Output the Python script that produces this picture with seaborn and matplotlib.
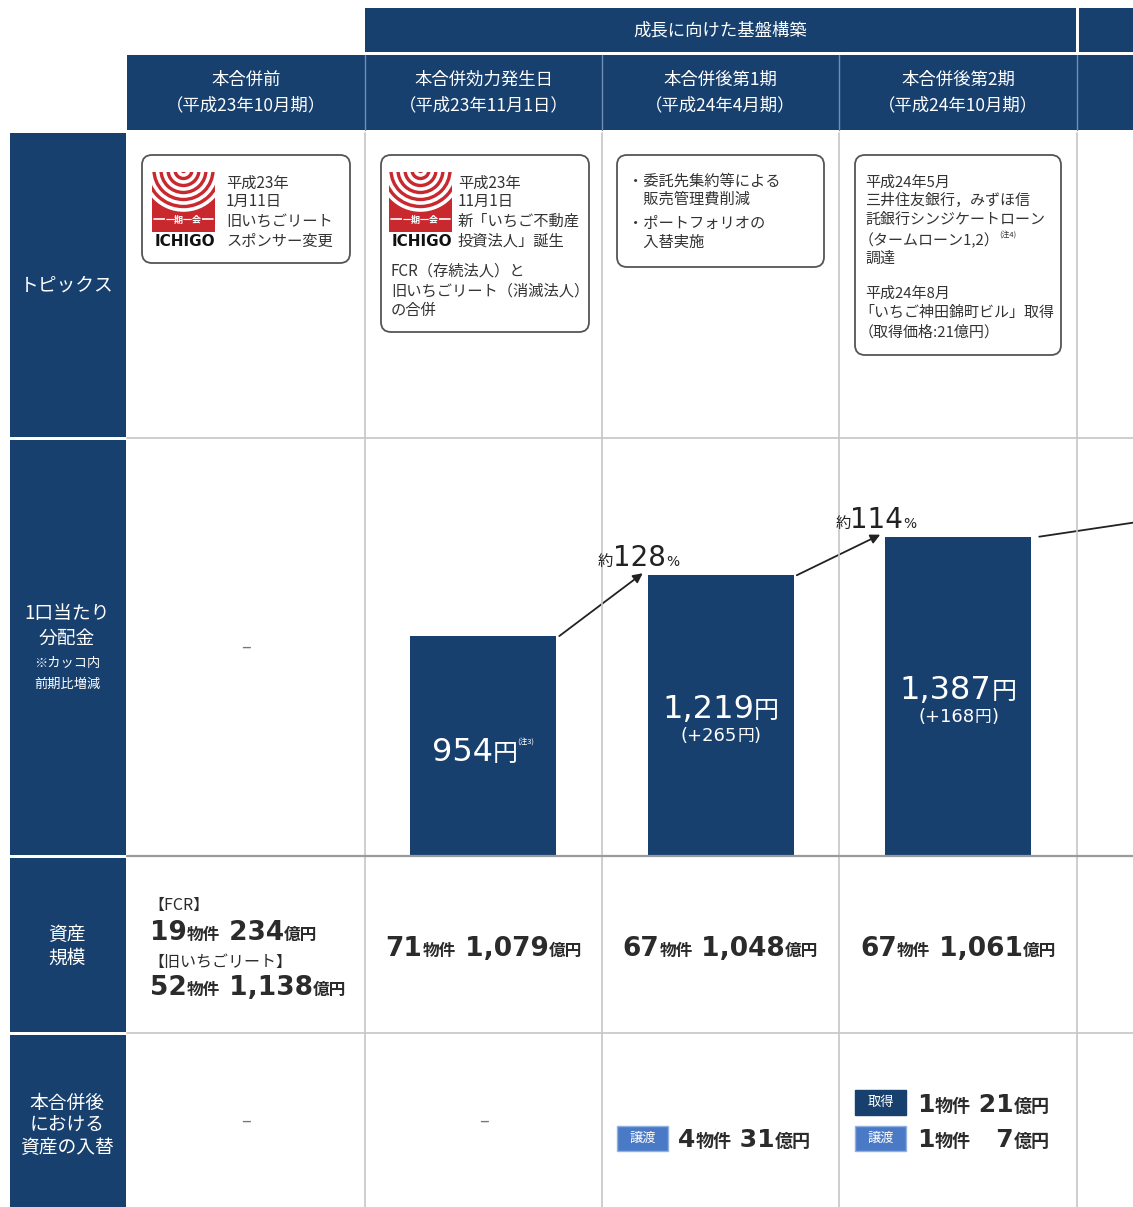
import numpy as np
import pandas as pd
import matplotlib
matplotlib.use("Agg")
import matplotlib.pyplot as plt
import seaborn as sns
from matplotlib.patches import Rectangle, FancyBboxPatch, Arc

# ---------------- data ----------------
periods = ["本合併前", "本合併効力発生日", "本合併後第1期", "本合併後第2期"]
period_sub = ["（平成23年10月期）", "（平成23年11月1日）", "（平成24年4月期）", "（平成24年10月期）"]
group_title = "成長に向けた基盤構築"
row_titles = ["トピックス", "1口当たり分配金", "資産規模", "本合併後における資産の入替"]
distribution = [np.nan, 954, 1219, 1387]          # 円 / 口
topic_box1 = ["平成23年", "1月11日", "旧いちごリート", "スポンサー変更"]
topic_box2_top = ["平成23年", "11月1日", "新「いちご不動産", "投資法人」誕生"]
topic_box2_bottom = ["FCR（存続法人）と", "旧いちごリート（消滅法人）", "の合併"]
topic_box3 = ["・委託先集約等による", "　販売管理費削減", "・ポートフォリオの", "　入替実施"]
topic_box4 = ["平成24年5月", "三井住友銀行，みずほ信", "託銀行シンジケートローン", "（タームローン1,2）", "調達",
              "平成24年8月", "「いちご神田錦町ビル」取得", "（取得価格:21億円）"]
pre_merger_names = ["【FCR】", "【旧いちごリート】"]
pre_merger_props = [19, 52]
pre_merger_oku = ["234", "1,138"]
asset_props = [71, 67, 67]
asset_oku = ["1,079", "1,048", "1,061"]
swap_col3 = [("譲渡", 4, "31")]
swap_col4 = [("取得", 1, "21"), ("譲渡", 1, "7")]

# ---------------- style ----------------
sns.set_theme(style="white")
JP = ["Noto Sans CJK JP", "DejaVu Sans"]
NUM = ["DejaVu Sans", "Noto Sans CJK JP"]
plt.rcParams["font.family"] = JP

NAVY = "#17406e"
BLUE = "#4a7ac6"
RED = "#c8282e"
DARK = "#2b2b2b"
GRID = "#c6c6c6"

W, H = 1133, 1207
fig = plt.figure(figsize=(W / 100, H / 100), dpi=100, facecolor="white")
ax0 = fig.add_axes([0, 0, 1, 1])
ax0.set_xlim(0, W)
ax0.set_ylim(H, 0)
ax0.axis("off")
ax0.patch.set_visible(False)
ax0.set_zorder(2)

col_edges = [127, 365, 602, 839, 1077, 1315]
col_centers = [(a + b) / 2 for a, b in zip(col_edges[:-1], col_edges[1:])]

centered = []


def rich(x, y, pieces, color=DARK, center=False):
    """pieces: (text, fontsize, weight, family[, dy_points])"""
    txt, fs, fw, fam = pieces[0][:4]
    t0 = ax0.text(x, y, txt, fontsize=fs, fontweight=fw, family=fam, color=color,
                  ha="left", va="baseline", zorder=6)
    arts = [t0]
    prev = t0
    for p in pieces[1:]:
        txt, fs, fw, fam = p[:4]
        dy = p[4] if len(p) > 4 else 0
        a = ax0.annotate(txt, xy=(1, y), xycoords=(prev, "data"), xytext=(0, dy),
                         textcoords="offset points", fontsize=fs, fontweight=fw, family=fam,
                         color=color, ha="left", va="baseline", zorder=6, annotation_clip=False)
        arts.append(a)
        prev = a
    if center:
        centered.append((arts, x))
    return arts


# ---------------- header ----------------
ax0.add_patch(Rectangle((365, 8), 1076 - 365, 44, color=NAVY, lw=0))
ax0.add_patch(Rectangle((1079, 8), 80, 44, color=NAVY, lw=0))
ax0.text((365 + 1076) / 2, 30, group_title, color="white", fontsize=12.5, ha="center", va="center")
ax0.add_patch(Rectangle((127, 55), W - 127, 75, color=NAVY, lw=0))
for x in col_edges[1:5]:
    ax0.plot([x, x], [55, 130], color="#6f8fb8", lw=1, zorder=3)
for i, (p, s) in enumerate(zip(periods, period_sub)):
    ax0.text(col_centers[i], 80, p, color="white", fontsize=12.5, ha="center", va="center")
    ax0.text(col_centers[i], 105, s, color="white", fontsize=12.5, ha="center", va="center")

# ---------------- left column ----------------
row_spans = [(133, 437), (440, 855), (858, 1032), (1035, 1207)]
for y0, y1 in row_spans:
    ax0.add_patch(Rectangle((10, y0), 116, y1 - y0, color=NAVY, lw=0))
ax0.text(67, 285, row_titles[0], color="white", fontsize=13.5, ha="center", va="center")
ax0.text(67, 613, "1口当たり", color="white", fontsize=13.5, ha="center", va="center")
ax0.text(67, 638, "分配金", color="white", fontsize=13.5, ha="center", va="center")
ax0.text(67, 664, "※カッコ内", color="white", fontsize=9.5, ha="center", va="center")
ax0.text(67, 684, "前期比増減", color="white", fontsize=9.5, ha="center", va="center")
ax0.text(67, 934, "資産", color="white", fontsize=13.5, ha="center", va="center")
ax0.text(67, 958, "規模", color="white", fontsize=13.5, ha="center", va="center")
for yy, t in zip([1103, 1125, 1147], ["本合併後", "における", "資産の入替"]):
    ax0.text(67, yy, t, color="white", fontsize=13.5, ha="center", va="center")

# ---------------- grid ----------------
for x in col_edges[1:5]:
    ax0.plot([x, x], [133, H], color=GRID, lw=1.2, zorder=1)
ax0.plot([127, W], [437.5, 437.5], color=GRID, lw=1.2, zorder=1)
ax0.plot([127, W], [855.5, 855.5], color="#9a9a9a", lw=1.6, zorder=1)
ax0.plot([127, W], [1033, 1033], color=GRID, lw=1.2, zorder=1)


# ---------------- topic boxes ----------------
def box(x0, y0, w, h):
    ax0.add_patch(FancyBboxPatch((x0, y0), w, h, boxstyle="round,pad=0,rounding_size=10",
                                 fc="white", ec="#555555", lw=1.3, zorder=2))


def logo(x, y):
    r = Rectangle((x, y), 63, 60, color=RED, lw=0, zorder=3)
    ax0.add_patch(r)
    cx = x + 31.5
    for rad in [5, 12, 19, 26, 33, 40]:
        a = Arc((cx, y - 2), 2 * rad, 2 * rad, theta1=0, theta2=180, color="white", lw=2.6, zorder=4)
        ax0.add_patch(a)
        a.set_clip_path(r)
    ax0.plot([x + 2, x + 61], [y + 47, y + 47], color="white", lw=1.2, zorder=4)
    ax0.text(cx, y + 48, "一期一会", color="white", fontsize=6.5, fontweight="bold",
             ha="center", va="center", zorder=5,
             bbox=dict(fc=RED, ec="none", pad=0.5))
    ax0.text(cx + 1, y + 70, "ICHIGO", color="#111111", fontsize=11, fontweight="bold",
             family=NUM, ha="center", va="center", zorder=5)


box(142, 155, 208, 108)
logo(152, 172)
for yy, t in zip([183, 201, 221, 241], topic_box1):
    ax0.text(226, yy, t, fontsize=11, color="#333333", ha="left", va="center")

box(381, 155, 208, 177)
logo(389, 172)
for yy, t in zip([183, 201, 221, 241], topic_box2_top):
    ax0.text(458, yy, t, fontsize=11, color="#333333", ha="left", va="center")
for yy, t in zip([271, 291, 310], topic_box2_bottom):
    ax0.text(391, yy, t, fontsize=11, color="#333333", ha="left", va="center")

box(617, 155, 207, 112)
for yy, t in zip([181, 199, 223, 242], topic_box3):
    ax0.text(628, yy, t, fontsize=11, color="#333333", ha="left", va="center")

box(855, 155, 206, 200)
for yy, t in zip([183, 201, 220, 240, 259, 294, 313, 332], topic_box4):
    xx = 859 if t.startswith(("「", "（")) else 865
    if t.startswith("（ターム"):
        rich(xx, yy + 5, [(t, 10.8, "normal", JP), ("(注4)", 5.5, "normal", JP, 6)],
             color="#333333")
    else:
        ax0.text(xx, yy, t, fontsize=10.8, color="#333333", ha="left", va="center")

# ---------------- distribution bars (seaborn) ----------------
bar_w = 0.615
px_per_col = 237.5
px_per_yen = 0.2295
axb = fig.add_axes([127 / W, (H - 855) / H, (W - 127) / W, 415 / H])
axb.set_zorder(1)
axb.patch.set_visible(False)
df = pd.DataFrame({"period": periods, "dist": distribution}).dropna()
sns.barplot(data=df, x="period", y="dist", order=periods, color=NAVY, saturation=1,
            width=bar_w, errorbar=None, linewidth=0, ax=axb)
axb.set_xlim(-0.5, -0.5 + (W - 127) / px_per_col)
axb.set_ylim(0, 415 / px_per_yen)
axb.axis("off")

dx = 1 / px_per_col
dy = 1 / px_per_yen
vals = distribution
for i in range(1, len(vals) - 1):
    axb.annotate("", xy=(i + 1 - bar_w / 2 - 5 * dx, vals[i + 1] + 2 * dy),
                 xytext=(i + bar_w / 2 + 3 * dx, vals[i]),
                 arrowprops=dict(arrowstyle="-|>", color="#222222", lw=1.3,
                                 mutation_scale=14, shrinkA=0, shrinkB=0))
last = len(vals) - 1
axb.plot([last + bar_w / 2 + 8 * dx, axb.get_xlim()[1]], [vals[last], vals[last] + 14 * dy],
         color="#222222", lw=1.3, clip_on=False)

fig.canvas.draw()


def to_px(x, y):
    d = axb.transData.transform((x, y))
    return d[0], H - d[1]


# percentage labels
for i in range(1, len(vals) - 1):
    pct = round(vals[i + 1] / vals[i] * 100)
    lx, ly = to_px(i + 1 - bar_w / 2, vals[i + 1])
    rich(lx - 50, ly - 9, [("約", 11, "normal", JP), (f"{pct}", 20, "normal", NUM),
                           ("%", 10, "normal", NUM)], color="#222222")

# values inside bars
for i in range(1, len(vals)):
    cx, top = to_px(i, vals[i])
    _, base = to_px(i, 0)
    mid = (top + base) / 2
    num = f"{vals[i]:,}"
    if i == 1:
        rich(cx, mid + 15, [(num, 23, "normal", NUM), ("円", 18, "normal", JP),
                            ("(注3)", 5.5, "normal", JP, 12)], color="white", center=True)
    else:
        diff = vals[i] - vals[i - 1]
        rich(cx, mid + 3, [(num, 23, "normal", NUM), ("円", 18, "normal", JP)],
             color="white", center=True)
        rich(cx, mid + 26, [(f"(+{diff}", 13, "normal", NUM), ("円", 12, "normal", JP),
                            (")", 13, "normal", NUM)], color="white", center=True)

# dashes for empty cells
for (cx_, cy_) in [(col_centers[0], 648), (col_centers[0], 1122), (col_centers[1], 1122)]:
    ax0.text(cx_, cy_, "–", fontsize=13, color="#777777", ha="center", va="center")

# ---------------- asset size row ----------------
ax0.text(148, 905, pre_merger_names[0], fontsize=11.5, color=DARK, ha="left", va="center")
ax0.text(148, 962, pre_merger_names[1], fontsize=11.5, color=DARK, ha="left", va="center")
for yb, n, oku in zip([940, 995], pre_merger_props, pre_merger_oku):
    rich(150, yb, [(f"{n}", 19, "bold", NUM), ("物件", 12, "bold", JP),
                   (f" {oku}", 19, "bold", NUM), ("億円", 12, "bold", JP)])
for k, (n, oku) in enumerate(zip(asset_props, asset_oku)):
    rich(col_centers[k + 1], 956, [(f"{n}", 19, "bold", NUM), ("物件", 12, "bold", JP),
                                  (f" {oku}", 19, "bold", NUM), ("億円", 12, "bold", JP)],
         center=True)


# ---------------- replacement row ----------------
def tag(x, y, label):
    fc = NAVY if label == "取得" else BLUE
    ax0.add_patch(Rectangle((x, y), 51, 25, fc=fc, ec="#8fb0e0" if label != "取得" else fc,
                            lw=1, zorder=3))
    ax0.text(x + 25.5, y + 12.5, label, fontsize=9.5, color="white", ha="center", va="center",
             zorder=4)


for label, n, oku in swap_col3:
    tag(617, 1126, label)
    rich(678, 1147, [(f"{n}", 18, "bold", NUM), ("物件", 13, "bold", JP),
                     (f" {oku}", 18, "bold", NUM), ("億円", 13, "bold", JP)])
for (label, n, oku), yt, yb in zip(swap_col4, [1090, 1126], [1112, 1147]):
    tag(855, yt, label)
    num = f" {oku}" if len(oku) == 2 else f"   {oku}"
    rich(917, yb, [(f"{n}", 18, "bold", NUM), ("物件", 13, "bold", JP),
                   (num, 18, "bold", NUM), ("億円", 13, "bold", JP)])

# ---------------- center compound labels ----------------
fig.canvas.draw()
r = fig.canvas.get_renderer()
for arts, cx in centered:
    bbs = [a.get_window_extent(r) for a in arts]
    x0 = min(b.x0 for b in bbs)
    x1 = max(b.x1 for b in bbs)
    shift = cx - (x0 + x1) / 2
    px, py = arts[0].get_position()
    arts[0].set_position((px + shift, py))

fig.savefig("out.png", dpi=100, facecolor="white")
